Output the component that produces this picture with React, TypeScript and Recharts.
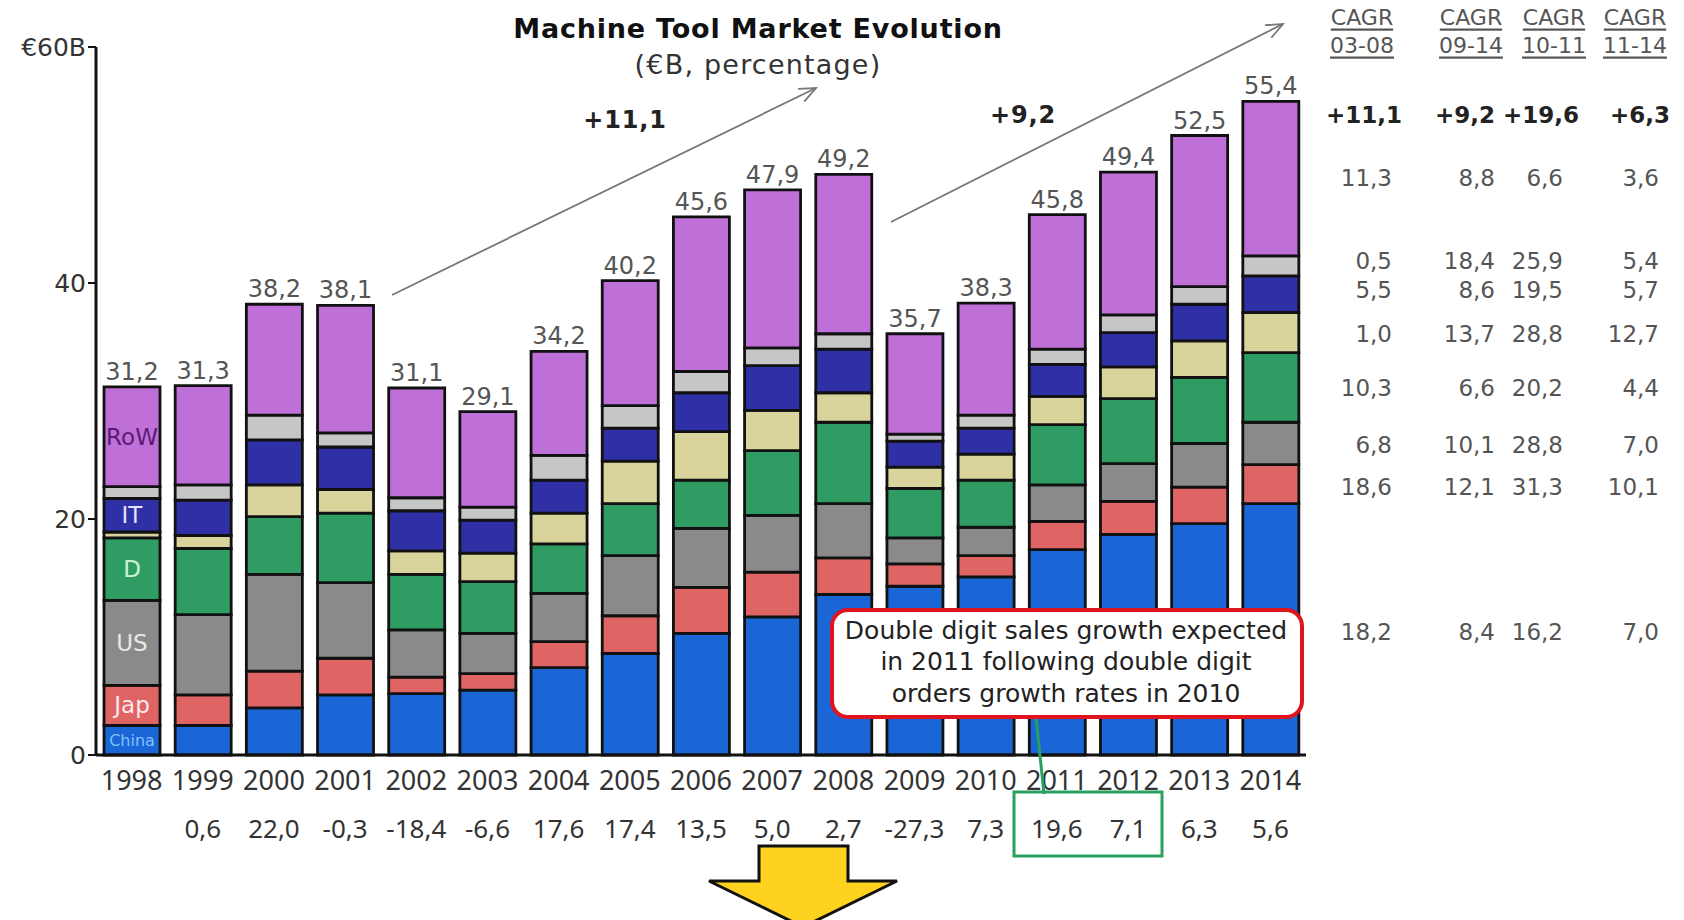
import React from "react";
import { BarChart, Bar, XAxis, YAxis, LabelList } from "recharts";

const years = [
  "1998", "1999", "2000", "2001", "2002", "2003", "2004", "2005", "2006",
  "2007", "2008", "2009", "2010", "2011", "2012", "2013", "2014",
];
const china = [2.5, 2.5, 4.0, 5.1, 5.2, 5.5, 7.4, 8.6, 10.3, 11.7, 13.6, 14.3, 15.1, 17.4, 18.7, 19.6, 21.3];
const japan = [3.4, 2.6, 3.1, 3.1, 1.4, 1.4, 2.2, 3.2, 3.9, 3.8, 3.1, 1.9, 1.8, 2.4, 2.8, 3.1, 3.3];
const us = [7.2, 6.8, 8.2, 6.4, 4.0, 3.4, 4.1, 5.1, 5.0, 4.8, 4.6, 2.2, 2.4, 3.1, 3.2, 3.7, 3.6];
const germany = [5.3, 5.6, 4.9, 5.9, 4.7, 4.4, 4.2, 4.4, 4.1, 5.5, 6.9, 4.2, 4.0, 5.1, 5.5, 5.6, 5.9];
const tan = [0.5, 1.1, 2.7, 2.0, 2.0, 2.4, 2.6, 3.6, 4.1, 3.4, 2.5, 1.8, 2.2, 2.4, 2.7, 3.1, 3.4];
const italy = [2.85, 3.0, 3.8, 3.6, 3.4, 2.8, 2.8, 2.8, 3.3, 3.8, 3.7, 2.2, 2.2, 2.7, 2.9, 3.1, 3.1];
const silver = [1.0, 1.3, 2.1, 1.2, 1.1, 1.1, 2.1, 1.9, 1.8, 1.5, 1.3, 0.6, 1.1, 1.3, 1.5, 1.5, 1.7];
const rest = [8.45, 8.4, 9.4, 10.8, 9.3, 8.1, 8.8, 10.6, 13.1, 13.4, 13.5, 8.5, 9.5, 11.4, 12.1, 12.8, 13.1];
const totals = [31.2, 31.3, 38.2, 38.1, 31.1, 29.1, 34.2, 40.2, 45.6, 47.9, 49.2, 35.7, 38.3, 45.8, 49.4, 52.5, 55.4];
const growth = [null, 0.6, 22.0, -0.3, -18.4, -6.6, 17.6, 17.4, 13.5, 5.0, 2.7, -27.3, 7.3, 19.6, 7.1, 6.3, 5.6];

const cagrHeads = ["03-08", "09-14", "10-11", "11-14"];
const cagrTotal = ["+11,1", "+9,2", "+19,6", "+6,3"];
const cagrRows = [
  ["11,3", "8,8", "6,6", "3,6"],
  ["0,5", "18,4", "25,9", "5,4"],
  ["5,5", "8,6", "19,5", "5,7"],
  ["1,0", "13,7", "28,8", "12,7"],
  ["10,3", "6,6", "20,2", "4,4"],
  ["6,8", "10,1", "28,8", "7,0"],
  ["18,6", "12,1", "31,3", "10,1"],
  ["18,2", "8,4", "16,2", "7,0"],
];
const note = [
  "Double digit sales growth expected",
  "in 2011 following double digit",
  "orders growth rates in 2010",
];

const data = years.map((year, i) => ({
  year,
  china: china[i],
  japan: japan[i],
  us: us[i],
  germany: germany[i],
  tan: tan[i],
  italy: italy[i],
  silver: silver[i],
  rest: rest[i],
  total: totals[i],
}));

const fmt = (v: number) => v.toFixed(1).replace(".", ",");
const FONT = "'DejaVu Sans', Verdana, sans-serif";
const YEAR_FONT = "'Noto Sans', sans-serif";

const series = [
  { key: "china", color: "#1a66d6", label: "China", labelColor: "#7fc0ff", size: 16 },
  { key: "japan", color: "#df6464", label: "Jap", labelColor: "#ffe8ec", size: 23 },
  { key: "us", color: "#8a8a8a", label: "US", labelColor: "#e8e8e8", size: 23 },
  { key: "germany", color: "#2f9d63", label: "D", labelColor: "#c8f5cf", size: 23 },
  { key: "tan", color: "#d9d49b", label: "", labelColor: "", size: 0 },
  { key: "italy", color: "#2f2fa6", label: "IT", labelColor: "#e2e2ff", size: 23 },
  { key: "silver", color: "#c6c6c6", label: "", labelColor: "", size: 0 },
  { key: "rest", color: "#bf70d8", label: "RoW", labelColor: "#5a1a72", size: 23 },
];

const YearTick = (props: any) => {
  const { x, y, payload } = props;
  const i = years.indexOf(payload.value);
  const g = growth[i];
  return (
    <g>
      <text x={x} y={y + 33} textAnchor="middle" fontFamily={YEAR_FONT} fontSize={27} fill="#333">
        {payload.value}
      </text>
      {g !== null && (
        <text x={x} y={y + 81} textAnchor="middle" fontFamily={YEAR_FONT} fontSize={26} fill="#333">
          {fmt(g as number)}
        </text>
      )}
    </g>
  );
};

const arrowHead = (x1: number, y1: number, x2: number, y2: number) => {
  const a = Math.atan2(y2 - y1, x2 - x1);
  const l = 18;
  const p1 = [x2 - l * Math.cos(a - 0.4), y2 - l * Math.sin(a - 0.4)];
  const p2 = [x2 - l * Math.cos(a + 0.4), y2 - l * Math.sin(a + 0.4)];
  return `M${p1[0]},${p1[1]} L${x2},${y2} L${p2[0]},${p2[1]}`;
};

const colRight = [1392, 1495, 1563, 1659];
const colRightBold = [1402, 1495, 1579, 1670];
const headCenter = [1362, 1471, 1554, 1635];
const rowY = [178, 261, 290, 334, 388, 445, 487, 632];

export default function App() {
  return (
    <div style={{ position: "relative", width: 1684, height: 920, background: "#fff" }}>
      <style>{`body{margin:0}`}</style>
      <BarChart
        width={1684}
        height={920}
        data={data}
        margin={{ top: 47, right: 378, left: 0, bottom: 125 }}
        barSize={56}
      >
        <XAxis
          dataKey="year"
          axisLine={{ stroke: "#111", strokeWidth: 3 }}
          tickLine={false}
          tickSize={0}
          height={40}
          interval={0}
          tick={<YearTick />}
        />
        <YAxis
          domain={[0, 60]}
          ticks={[0, 20, 40, 60]}
          width={96}
          axisLine={{ stroke: "#111", strokeWidth: 3 }}
          tickLine={{ stroke: "#111", strokeWidth: 2 }}
          tickSize={8}
          tickMargin={2}
          tick={{ fontFamily: FONT, fontSize: 25, fill: "#333" }}
          tickFormatter={(v) => (v === 60 ? "€60B" : String(v))}
        />
        {series.map((s) => (
          <Bar
            key={s.key}
            dataKey={s.key}
            stackId="a"
            fill={s.color}
            stroke="#111"
            strokeWidth={2.8}
            isAnimationActive={false}
          >
            {s.label && (
              <LabelList
                dataKey={s.key}
                content={(p: any) =>
                  p.index === 0 ? (
                    <text
                      x={p.x + p.width / 2}
                      y={p.y + p.height / 2}
                      textAnchor="middle"
                      dominantBaseline="central"
                      fontFamily={FONT}
                      fontSize={s.size}
                      fill={s.labelColor}
                    >
                      {s.label}
                    </text>
                  ) : null
                }
              />
            )}
            {s.key === "rest" && (
              <LabelList
                dataKey="total"
                position="top"
                offset={7}
                formatter={(v: any) => fmt(Number(v))}
                style={{ fontFamily: FONT, fontSize: 24, fill: "#555" }}
              />
            )}
          </Bar>
        ))}
      </BarChart>

      <svg
        width={1684}
        height={920}
        style={{ position: "absolute", left: 0, top: 0, pointerEvents: "none" }}
        fontFamily={FONT}
      >
        <text x={758} y={28} textAnchor="middle" dominantBaseline="central" fontSize={27} fontWeight="bold" letterSpacing={0.8} fill="#111">
          Machine Tool Market Evolution
        </text>
        <text x={758} y={64} textAnchor="middle" dominantBaseline="central" fontSize={27} letterSpacing={1.2} fill="#333">
          (€B, percentage)
        </text>

        <line x1={392} y1={295} x2={816} y2={88} stroke="#777" strokeWidth={1.8} />
        <path d={arrowHead(392, 295, 816, 88)} fill="none" stroke="#777" strokeWidth={1.8} />
        <text x={625} y={120} textAnchor="middle" dominantBaseline="central" fontSize={24} fontWeight="bold" letterSpacing={0.8} fill="#222">
          +11,1
        </text>
        <line x1={891} y1={222} x2={1283} y2={24} stroke="#777" strokeWidth={1.8} />
        <path d={arrowHead(891, 222, 1283, 24)} fill="none" stroke="#777" strokeWidth={1.8} />
        <text x={1023} y={115} textAnchor="middle" dominantBaseline="central" fontSize={24} fontWeight="bold" letterSpacing={0.8} fill="#222">
          +9,2
        </text>

        {cagrHeads.map((h, i) => (
          <g key={h}>
            <text x={headCenter[i]} y={17} textAnchor="middle" dominantBaseline="central" fontSize={22} fill="#555" textDecoration="underline">
              CAGR
            </text>
            <text x={headCenter[i]} y={45} textAnchor="middle" dominantBaseline="central" fontSize={22} fill="#555" textDecoration="underline">
              {h}
            </text>
          </g>
        ))}
        {cagrTotal.map((v, i) => (
          <text key={v} x={colRightBold[i]} y={115} textAnchor="end" dominantBaseline="central" fontSize={23} fontWeight="bold" fill="#222">
            {v}
          </text>
        ))}
        {cagrRows.map((r, j) =>
          r.map((v, i) => (
            <text key={`${j}-${i}`} x={colRight[i]} y={rowY[j]} textAnchor="end" dominantBaseline="central" fontSize={23} fill="#555">
              {v}
            </text>
          ))
        )}

        <line x1={1036} y1={717} x2={1044} y2={794} stroke="#2aa060" strokeWidth={3} />
        <rect x={1014} y={792} width={148} height={64} fill="none" stroke="#2aa060" strokeWidth={3} />
        <rect x={832} y={610} width={470} height={107} rx={16} fill="#fff" stroke="#e0141e" strokeWidth={4} />
        {note.map((t, i) => (
          <text key={t} x={1066} y={630 + i * 31.5} textAnchor="middle" dominantBaseline="central" fontSize={25} fill="#222">
            {t}
          </text>
        ))}

        <polygon
          points="759,846 848,846 848,881 897,881 803,927 709,881 759,881"
          fill="#ffd21f"
          stroke="#111"
          strokeWidth={3}
          strokeLinejoin="miter"
        />
      </svg>
    </div>
  );
}
